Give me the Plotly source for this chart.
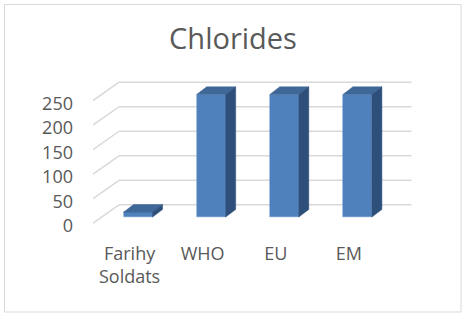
import plotly.graph_objects as go

# ---- data ----
categories = ["Farihy<br>Soldats", "WHO", "EU", "EM"]
values = [10, 250, 250, 250]
y_ticks = [0, 50, 100, 150, 200, 250]
title_text = "Chlorides"

# ---- styling / geometry (pseudo-3D depth in axis units) ----
W, H = 468, 319
ML, MR, MT, MB = 93, 46, 76, 91
XR = [-0.5, 4.0]
YR = [-10, 300]
label_shift = 6                        # tick labels sit slightly below floor front edge
wall_dx, wall_dy = 0.3557, 37.3      # floor depth (front edge -> back wall)
bar_sx, bar_sy = 0.116, 12.2          # bar front face offset from floor front
bar_w = 0.397
bar_dx, bar_dy = 0.137, 15.7          # bar depth
front_col, top_col, side_col = "#4F81BD", "#3F6797", "#2E4F7A"
grid_col = "#D9D9D9"
text_col = "#595959"
font_family = "Open Sans"

xs = list(range(len(categories)))

fig = go.Figure()

# front faces as real bars
fig.add_trace(go.Bar(
    x=[x + bar_sx for x in xs], y=values, base=[bar_sy] * len(values),
    width=bar_w, marker=dict(color=front_col, line=dict(color="#5B8CC8", width=0.5)),
    hoverinfo="skip", showlegend=False))

# top and side faces
for x, v in zip(xs, values):
    x0 = x + bar_sx - bar_w / 2
    x1 = x + bar_sx + bar_w / 2
    yb = bar_sy
    yt = bar_sy + v
    fig.add_trace(go.Scatter(
        x=[x0, x1, x1 + bar_dx, x0 + bar_dx, x0],
        y=[yt, yt, yt + bar_dy, yt + bar_dy, yt],
        fill="toself", fillcolor=top_col, mode="lines",
        line=dict(color=top_col, width=0.5), hoverinfo="skip", showlegend=False))
    fig.add_trace(go.Scatter(
        x=[x1, x1 + bar_dx, x1 + bar_dx, x1, x1],
        y=[yb, yb + bar_dy, yt + bar_dy, yt, yb],
        fill="toself", fillcolor=side_col, mode="lines",
        line=dict(color=side_col, width=0.5), hoverinfo="skip", showlegend=False))

# invisible trace to anchor label axis
fig.add_trace(go.Scatter(x=[None], y=[None], yaxis="y2", mode="markers",
                         hoverinfo="skip", showlegend=False))

# gridlines: diagonal on side + horizontal on back wall
shapes = []
left = -0.5
right = len(categories) - 0.5
for t in y_ticks:
    shapes.append(dict(type="line", xref="x", yref="y", layer="below",
                       x0=left, y0=t, x1=left + wall_dx, y1=t + wall_dy,
                       line=dict(color=grid_col, width=1.5)))
    shapes.append(dict(type="line", xref="x", yref="y", layer="below",
                       x0=left + wall_dx, y0=t + wall_dy, x1=right + wall_dx, y1=t + wall_dy,
                       line=dict(color=grid_col, width=1.5)))

# chart border
pw, ph = W - ML - MR, H - MT - MB
def px2paper_x(px):
    return (px - ML) / pw
def px2paper_y(py):
    return 1 - (py - MT) / ph
shapes.append(dict(type="rect", xref="paper", yref="paper", layer="below",
                   x0=px2paper_x(4.5), x1=px2paper_x(461), y0=px2paper_y(312), y1=px2paper_y(4.5),
                   line=dict(color="#D9D9D9", width=1)))

fig.update_layout(
    width=W, height=H,
    margin=dict(l=ML, r=MR, t=MT, b=MB),
    paper_bgcolor="white", plot_bgcolor="rgba(0,0,0,0)",
    font=dict(family=font_family, color=text_col, size=18),
    title=dict(text=title_text, x=233 / W, xanchor="center", xref="container",
               y=1 - 39 / H, yanchor="middle", yref="container",
               font=dict(size=29, color=text_col, family=font_family)),
    shapes=shapes,
    showlegend=False,
    bargap=0,
)
fig.update_xaxes(range=XR, tickvals=xs, ticktext=categories, showgrid=False,
                 zeroline=False, showline=False, ticks="", ticklabelstandoff=13,
                 tickfont=dict(size=18, color=text_col), fixedrange=True)
fig.update_yaxes(range=YR, showticklabels=False, showgrid=False, zeroline=False,
                 showline=False, ticks="", fixedrange=True)
fig.update_layout(yaxis2=dict(
    overlaying="y", side="left", range=[YR[0] + label_shift, YR[1] + label_shift],
    tickvals=y_ticks, ticktext=[str(t) for t in y_ticks],
    showgrid=False, zeroline=False, showline=False, ticks="",
    ticklabelstandoff=19, tickfont=dict(size=18, color=text_col), fixedrange=True))

fig.write_html("out.html", config={"displayModeBar": False},
               post_script="document.body.style.margin='0';document.body.style.overflow='hidden';")
